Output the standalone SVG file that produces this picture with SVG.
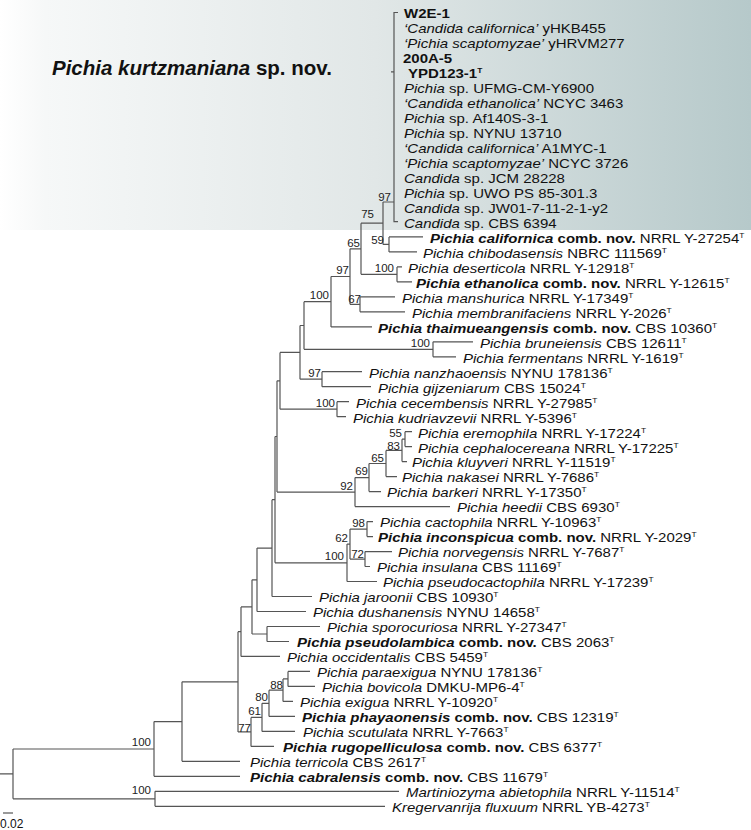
<svg xmlns="http://www.w3.org/2000/svg" width="751" height="830" viewBox="0 0 751 830">
<defs>
<linearGradient id="bg" x1="0" y1="0" x2="1" y2="0">
<stop offset="0" stop-color="#ffffff"/>
<stop offset="0.06" stop-color="#f6f8f8"/>
<stop offset="0.5" stop-color="#e1e7e7"/>
<stop offset="1" stop-color="#b6c9ca"/>
</linearGradient>
<style>
.t{font-family:"Liberation Sans",Arial,sans-serif;font-size:13.4px;fill:#111}
.i{font-style:italic}
.b{font-weight:bold}
.s{font-size:7.5px}
.n{font-family:"Liberation Sans",Arial,sans-serif;font-size:11.5px;fill:#222;text-anchor:end}
.br path{stroke:#555;stroke-width:1.2;fill:none}
</style>
</defs>
<rect x="0" y="0" width="751" height="230" fill="url(#bg)"/>
<text x="52" y="75" style="font-family:'Liberation Sans',Arial,sans-serif;font-size:20.5px;font-weight:bold;fill:#111"><tspan class="i">Pichia kurtzmaniana</tspan> sp. nov.</text>

<g id="branches" class="br">
<path d="M0 773.9H13M13 749V798.8M13 749H154M13 798.8H155"/>
<path d="M155 791.3V806.3M155 791.3H399M155 806.3H385"/>
<path d="M154 721.6V776.3M154 721.6H182M154 776.3H240"/>
<path d="M182 681.8V761.3M182 681.8H238M182 761.3H240"/>
<path d="M238 631.7V731.9M238 631.7H241M238 731.9H251"/>
<path d="M241 606.9V656.4M241 606.9H252M241 656.4H280"/>
<path d="M251 717.4V746.4M251 717.4H262M251 746.4H274"/>
<path d="M262 703.3V731.4M262 703.3H269M262 731.4H295"/>
<path d="M269 690.2V716.4M269 690.2H283M269 716.4H295"/>
<path d="M283 678.9V701.4M283 678.9H288M283 701.4H293"/>
<path d="M288 671.4V686.4M288 671.4H310M288 686.4H315"/>
<path d="M252 579.8V634M252 579.8H257M252 634H267"/>
<path d="M267 626.5V641.5M267 626.5H320M267 641.5H289"/>
<path d="M257 548.1V611.5M257 548.1H272M257 611.5H306"/>
<path d="M272 499.7V596.5M272 499.7H275M272 596.5H312"/>
<path d="M275 436.5V562.8M275 436.5H277M275 562.8H347"/>
<path d="M347 544.1V581.5M347 544.1H350M347 581.5H377"/>
<path d="M350 529.1V559.1M350 529.1H367M350 559.1H365"/>
<path d="M367 521.6V536.6M367 521.6H373M367 536.6H373"/>
<path d="M365 551.6V566.5M365 551.6H392M365 566.5H370"/>
<path d="M277 380.8V492.1M277 380.8H280M277 492.1H355"/>
<path d="M355 477.6V506.6M355 477.6H369M355 506.6H450"/>
<path d="M369 463.5V491.6M369 463.5H386M369 491.6H381"/>
<path d="M386 450.4V476.6M386 450.4H402M386 476.6H397"/>
<path d="M402 439.2V461.6M402 439.2H405M402 461.6H407"/>
<path d="M405 431.7V446.6M405 431.7H412M405 446.6H412"/>
<path d="M280 352.4V409.2M280 352.4H300M280 409.2H337"/>
<path d="M337 401.7V416.7M337 401.7H349M337 416.7H346"/>
<path d="M300 325.5V379.2M300 325.5H304M300 379.2H322"/>
<path d="M322 371.7V386.7M322 371.7H362M322 386.7H371"/>
<path d="M304 301.7V349.3M304 301.7H331M304 349.3H433"/>
<path d="M433 341.8V356.8M433 341.8H473M433 356.8H456"/>
<path d="M331 276.5V326.9M331 276.5H350M331 326.9H372"/>
<path d="M350 248.8V304.3M350 248.8H361M350 304.3H360"/>
<path d="M360 296.8V311.8M360 296.8H395M360 311.8H405"/>
<path d="M361 223.2V274.3M361 223.2H383M361 274.3H397"/>
<path d="M397 266.9V281.8M397 266.9H402M397 281.8H412"/>
<path d="M383 202V244.4M383 202H394M383 244.4H389"/>
<path d="M389 236.9V251.9M389 236.9H423M389 251.9H417"/>
<path d="M398 12.5H394V221.7H398M391 71.9H394"/>
<path d="M3 813H13"/>
</g>

<g id="support">
<g id="n-clade"><text class="n" x="391" y="201">97</text></g>
<g id="n-75"><text class="n" x="374" y="218">75</text></g>
<g id="n-59"><text class="n" x="384" y="244">59</text></g>
<g id="n-65"><text class="n" x="360" y="247">65</text></g>
<g id="n-des"><text class="n" x="394" y="272">100</text></g>
<g id="n-97"><text class="n" x="349" y="274">97</text></g>
<g id="n-67"><text class="n" x="361" y="303">67</text></g>
<g id="n-331"><text class="n" x="329" y="299">100</text></g>
<g id="n-brun"><text class="n" x="430" y="347">100</text></g>
<g id="n-nanz"><text class="n" x="321" y="377">97</text></g>
<g id="n-cecem"><text class="n" x="335" y="407">100</text></g>
<g id="n-55"><text class="n" x="402" y="437">55</text></g>
<g id="n-83"><text class="n" x="400" y="450">83</text></g>
<g id="n-65b"><text class="n" x="384" y="462">65</text></g>
<g id="n-69"><text class="n" x="368" y="475">69</text></g>
<g id="n-92"><text class="n" x="353" y="490">92</text></g>
<g id="n-98"><text class="n" x="365" y="527">98</text></g>
<g id="n-62"><text class="n" x="348" y="542">62</text></g>
<g id="n-72"><text class="n" x="364" y="558">72</text></g>
<g id="n-100c"><text class="n" x="344" y="560">100</text></g>
<g id="n-88"><text class="n" x="283" y="689">88</text></g>
<g id="n-80"><text class="n" x="268" y="701">80</text></g>
<g id="n-61"><text class="n" x="261" y="715">61</text></g>
<g id="n-77"><text class="n" x="251" y="732">77</text></g>
<g id="n-ingroup"><text class="n" x="151" y="746">100</text></g>
<g id="n-outgroup"><text class="n" x="151" y="794">100</text></g>
</g>

<g id="taxa">
<g id="l0"><text class="t b" transform="translate(404 17.5) scale(1.12 1)">W2E-1</text></g>
<g id="l1"><text class="t" transform="translate(404 32.5) scale(1.12 1)"><tspan class="i">‘Candida californica’</tspan> yHKB455</text></g>
<g id="l2"><text class="t" transform="translate(404 47.5) scale(1.12 1)"><tspan class="i">‘Pichia scaptomyzae’</tspan> yHRVM277</text></g>
<g id="l3"><text class="t b" transform="translate(403 62.5) scale(1.12 1)">200A-5</text></g>
<g id="l4"><text class="t b" transform="translate(408 77.5) scale(1.12 1)">YPD123-1<tspan class="s" dy="-5">T</tspan></text></g>
<g id="l5"><text class="t" transform="translate(404 92.5) scale(1.12 1)"><tspan class="i">Pichia</tspan> sp. UFMG-CM-Y6900</text></g>
<g id="l6"><text class="t" transform="translate(404 107.5) scale(1.12 1)"><tspan class="i">‘Candida ethanolica’</tspan> NCYC 3463</text></g>
<g id="l7"><text class="t" transform="translate(404 122.5) scale(1.12 1)"><tspan class="i">Pichia</tspan> sp. Af140S-3-1</text></g>
<g id="l8"><text class="t" transform="translate(404 137.5) scale(1.12 1)"><tspan class="i">Pichia</tspan> sp. NYNU 13710</text></g>
<g id="l9"><text class="t" transform="translate(404 152.5) scale(1.12 1)"><tspan class="i">‘Candida californica’</tspan> A1MYC-1</text></g>
<g id="l10"><text class="t" transform="translate(404 167.5) scale(1.12 1)"><tspan class="i">‘Pichia scaptomyzae’</tspan> NCYC 3726</text></g>
<g id="l11"><text class="t" transform="translate(404 182.5) scale(1.12 1)"><tspan class="i">Candida</tspan> sp. JCM 28228</text></g>
<g id="l12"><text class="t" transform="translate(404 197.5) scale(1.12 1)"><tspan class="i">Pichia</tspan> sp. UWO PS 85-301.3</text></g>
<g id="l13"><text class="t" transform="translate(404 212.5) scale(1.12 1)"><tspan class="i">Candida</tspan> sp. JW01-7-11-2-1-y2</text></g>
<g id="l14"><text class="t" transform="translate(404 227.5) scale(1.12 1)"><tspan class="i">Candida</tspan> sp. CBS 6394</text></g>
<g id="l15"><text class="t" transform="translate(430 242.5) scale(1.12 1)"><tspan class="i b">Pichia californica</tspan><tspan class="b"> comb. nov.</tspan> NRRL Y-27254<tspan class="s" dy="-5">T</tspan></text></g>
<g id="l16"><text class="t" transform="translate(423 257.5) scale(1.12 1)"><tspan class="i">Pichia chibodasensis</tspan> NBRC 111569<tspan class="s" dy="-5">T</tspan></text></g>
<g id="l17"><text class="t" transform="translate(408 272.5) scale(1.12 1)"><tspan class="i">Pichia deserticola</tspan> NRRL Y-12918<tspan class="s" dy="-5">T</tspan></text></g>
<g id="l18"><text class="t" transform="translate(416 287.5) scale(1.12 1)"><tspan class="i b">Pichia ethanolica</tspan><tspan class="b"> comb. nov.</tspan> NRRL Y-12615<tspan class="s" dy="-5">T</tspan></text></g>
<g id="l19"><text class="t" transform="translate(402 302.5) scale(1.12 1)"><tspan class="i">Pichia manshurica</tspan> NRRL Y-17349<tspan class="s" dy="-5">T</tspan></text></g>
<g id="l20"><text class="t" transform="translate(412 317.5) scale(1.12 1)"><tspan class="i">Pichia membranifaciens</tspan> NRRL Y-2026<tspan class="s" dy="-5">T</tspan></text></g>
<g id="l21"><text class="t" transform="translate(378 332.5) scale(1.12 1)"><tspan class="i b">Pichia thaimueangensis</tspan><tspan class="b"> comb. nov.</tspan> CBS 10360<tspan class="s" dy="-5">T</tspan></text></g>
<g id="l22"><text class="t" transform="translate(480 347.5) scale(1.12 1)"><tspan class="i">Pichia bruneiensis</tspan> CBS 12611<tspan class="s" dy="-5">T</tspan></text></g>
<g id="l23"><text class="t" transform="translate(463 362.5) scale(1.12 1)"><tspan class="i">Pichia fermentans</tspan> NRRL Y-1619<tspan class="s" dy="-5">T</tspan></text></g>
<g id="l24"><text class="t" transform="translate(369 377.5) scale(1.12 1)"><tspan class="i">Pichia nanzhaoensis</tspan> NYNU 178136<tspan class="s" dy="-5">T</tspan></text></g>
<g id="l25"><text class="t" transform="translate(378 392.5) scale(1.12 1)"><tspan class="i">Pichia gijzeniarum</tspan> CBS 15024<tspan class="s" dy="-5">T</tspan></text></g>
<g id="l26"><text class="t" transform="translate(356 407.5) scale(1.12 1)"><tspan class="i">Pichia cecembensis</tspan> NRRL Y-27985<tspan class="s" dy="-5">T</tspan></text></g>
<g id="l27"><text class="t" transform="translate(353 422.5) scale(1.12 1)"><tspan class="i">Pichia kudriavzevii</tspan> NRRL Y-5396<tspan class="s" dy="-5">T</tspan></text></g>
<g id="l28"><text class="t" transform="translate(418 437.5) scale(1.12 1)"><tspan class="i">Pichia eremophila</tspan> NRRL Y-17224<tspan class="s" dy="-5">T</tspan></text></g>
<g id="l29"><text class="t" transform="translate(418 452.5) scale(1.12 1)"><tspan class="i">Pichia cephalocereana</tspan> NRRL Y-17225<tspan class="s" dy="-5">T</tspan></text></g>
<g id="l30"><text class="t" transform="translate(412 467) scale(1.12 1)"><tspan class="i">Pichia kluyveri</tspan> NRRL Y-11519<tspan class="s" dy="-5">T</tspan></text></g>
<g id="l31"><text class="t" transform="translate(402 482) scale(1.12 1)"><tspan class="i">Pichia nakasei</tspan> NRRL Y-7686<tspan class="s" dy="-5">T</tspan></text></g>
<g id="l32"><text class="t" transform="translate(387 497) scale(1.12 1)"><tspan class="i">Pichia barkeri</tspan> NRRL Y-17350<tspan class="s" dy="-5">T</tspan></text></g>
<g id="l33"><text class="t" transform="translate(457 512) scale(1.12 1)"><tspan class="i">Pichia heedii</tspan> CBS 6930<tspan class="s" dy="-5">T</tspan></text></g>
<g id="l34"><text class="t" transform="translate(380 527) scale(1.12 1)"><tspan class="i">Pichia cactophila</tspan> NRRL Y-10963<tspan class="s" dy="-5">T</tspan></text></g>
<g id="l35"><text class="t" transform="translate(378 542) scale(1.12 1)"><tspan class="i b">Pichia inconspicua</tspan><tspan class="b"> comb. nov.</tspan> NRRL Y-2029<tspan class="s" dy="-5">T</tspan></text></g>
<g id="l36"><text class="t" transform="translate(398 557) scale(1.12 1)"><tspan class="i">Pichia norvegensis</tspan> NRRL Y-7687<tspan class="s" dy="-5">T</tspan></text></g>
<g id="l37"><text class="t" transform="translate(377 572) scale(1.12 1)"><tspan class="i">Pichia insulana</tspan> CBS 11169<tspan class="s" dy="-5">T</tspan></text></g>
<g id="l38"><text class="t" transform="translate(383 587) scale(1.12 1)"><tspan class="i">Pichia pseudocactophila</tspan> NRRL Y-17239<tspan class="s" dy="-5">T</tspan></text></g>
<g id="l39"><text class="t" transform="translate(319 602) scale(1.12 1)"><tspan class="i">Pichia jaroonii</tspan> CBS 10930<tspan class="s" dy="-5">T</tspan></text></g>
<g id="l40"><text class="t" transform="translate(313 617) scale(1.12 1)"><tspan class="i">Pichia dushanensis</tspan> NYNU 14658<tspan class="s" dy="-5">T</tspan></text></g>
<g id="l41"><text class="t" transform="translate(327 632) scale(1.12 1)"><tspan class="i">Pichia sporocuriosa</tspan> NRRL Y-27347<tspan class="s" dy="-5">T</tspan></text></g>
<g id="l42"><text class="t" transform="translate(297 647) scale(1.12 1)"><tspan class="i b">Pichia pseudolambica</tspan><tspan class="b"> comb. nov.</tspan> CBS 2063<tspan class="s" dy="-5">T</tspan></text></g>
<g id="l43"><text class="t" transform="translate(287 661.5) scale(1.12 1)"><tspan class="i">Pichia occidentalis</tspan> CBS 5459<tspan class="s" dy="-5">T</tspan></text></g>
<g id="l44"><text class="t" transform="translate(317 676.5) scale(1.12 1)"><tspan class="i">Pichia paraexigua</tspan> NYNU 178136<tspan class="s" dy="-5">T</tspan></text></g>
<g id="l45"><text class="t" transform="translate(322 691.5) scale(1.12 1)"><tspan class="i">Pichia bovicola</tspan> DMKU-MP6-4<tspan class="s" dy="-5">T</tspan></text></g>
<g id="l46"><text class="t" transform="translate(300 706.5) scale(1.12 1)"><tspan class="i">Pichia exigua</tspan> NRRL Y-10920<tspan class="s" dy="-5">T</tspan></text></g>
<g id="l47"><text class="t" transform="translate(302 721.5) scale(1.12 1)"><tspan class="i b">Pichia phayaonensis</tspan><tspan class="b"> comb. nov.</tspan> CBS 12319<tspan class="s" dy="-5">T</tspan></text></g>
<g id="l48"><text class="t" transform="translate(303 736.5) scale(1.12 1)"><tspan class="i">Pichia scutulata</tspan> NRRL Y-7663<tspan class="s" dy="-5">T</tspan></text></g>
<g id="l49"><text class="t" transform="translate(283 751.5) scale(1.12 1)"><tspan class="i b">Pichia rugopelliculosa</tspan><tspan class="b"> comb. nov.</tspan> CBS 6377<tspan class="s" dy="-5">T</tspan></text></g>
<g id="l50"><text class="t" transform="translate(250 766.5) scale(1.12 1)"><tspan class="i">Pichia terricola</tspan> CBS 2617<tspan class="s" dy="-5">T</tspan></text></g>
<g id="l51"><text class="t" transform="translate(250 781.5) scale(1.12 1)"><tspan class="i b">Pichia cabralensis</tspan><tspan class="b"> comb. nov.</tspan> CBS 11679<tspan class="s" dy="-5">T</tspan></text></g>
<g id="l52"><text class="t" transform="translate(406 796.5) scale(1.12 1)"><tspan class="i">Martiniozyma abietophila</tspan> NRRL Y-11514<tspan class="s" dy="-5">T</tspan></text></g>
<g id="l53"><text class="t" transform="translate(392 811.5) scale(1.12 1)"><tspan class="i">Kregervanrija fluxuum</tspan> NRRL YB-4273<tspan class="s" dy="-5">T</tspan></text></g>
</g>
<g id="scale"><text x="0" y="828" style="font-family:'Liberation Sans',Arial,sans-serif;font-size:12px;fill:#111">0.02</text></g>
</svg>
